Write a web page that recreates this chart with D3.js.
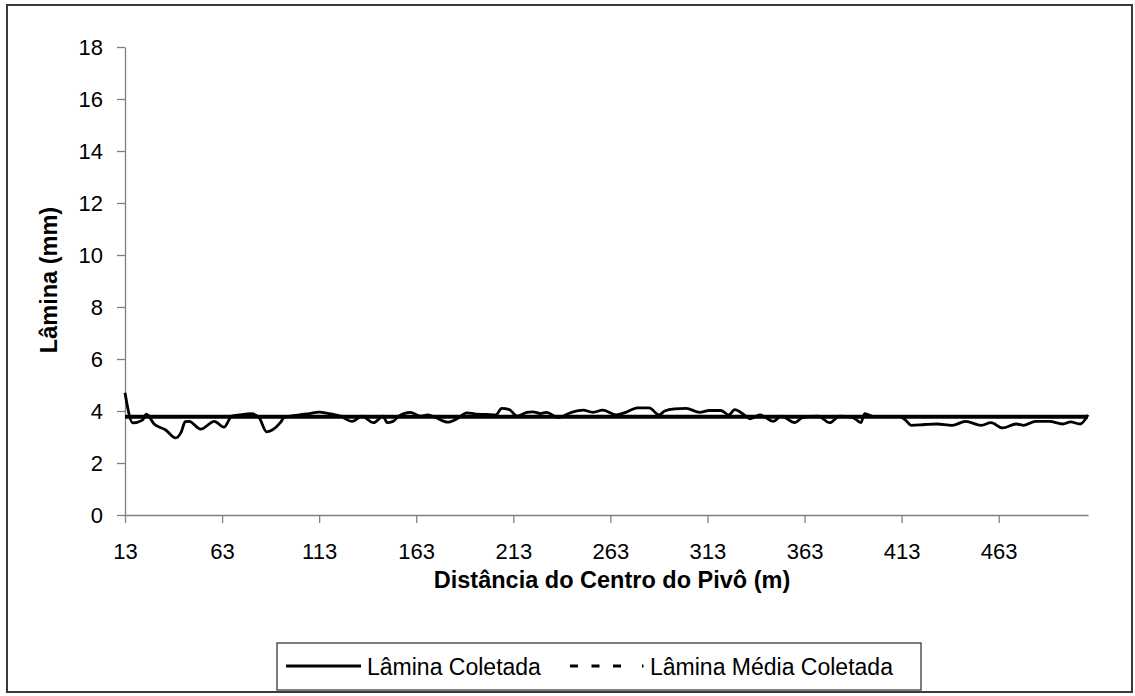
<!DOCTYPE html>
<html>
<head>
<meta charset="utf-8">
<script src="https://cdn.jsdelivr.net/npm/d3@7"></script>
<style>
  body { margin: 0; background: #fff; }
  svg text { font-family: "Liberation Sans", Arial, sans-serif; fill: #000; }
</style>
</head>
<body>
<svg id="chart" width="1135" height="696"></svg>
<script>
// dados
let distancia = [13, 17, 22, 24, 28, 34, 39, 42, 44, 46, 52, 59, 64, 68, 72, 78, 82, 86, 93, 95,
	103, 108, 113, 118, 124, 130, 135, 141, 146, 148, 151, 154, 160, 165, 169, 173, 179, 184, 189, 194,
	199, 204, 207, 211, 215, 220, 223, 227, 230, 236, 243, 249, 254, 259, 266, 271, 277, 283, 288, 291,
	296, 302, 309, 314, 320, 324, 327, 332, 335, 340, 347, 351, 358, 362, 370, 376, 381, 388, 392, 394,
	399, 405, 412, 415, 418, 425, 431, 439, 446, 454, 459, 465, 472, 476, 482, 489, 496, 500, 505, 509]
let laminaColetada = [4.70, 3.54, 3.65, 3.88, 3.5, 3.27, 2.97, 3.2, 3.59, 3.6, 3.3, 3.6, 3.38, 3.8, 3.85, 3.9, 3.75, 3.2, 3.55, 3.75,
	3.85, 3.9, 3.96, 3.9, 3.8, 3.6, 3.8, 3.55, 3.8, 3.55, 3.6, 3.8, 3.95, 3.8, 3.85, 3.75, 3.57, 3.7, 3.93, 3.88,
	3.87, 3.85, 4.1, 4.05, 3.8, 3.95, 3.97, 3.9, 3.95, 3.75, 3.95, 4.03, 3.95, 4.03, 3.85, 3.95, 4.12, 4.12, 3.85, 4.0,
	4.08, 4.1, 3.95, 4.02, 4.02, 3.85, 4.05, 3.85, 3.7, 3.85, 3.6, 3.8, 3.55, 3.75, 3.8, 3.55, 3.8, 3.75, 3.55, 3.9,
	3.78, 3.78, 3.78, 3.65, 3.45, 3.48, 3.5, 3.45, 3.6, 3.45, 3.55, 3.35, 3.5, 3.45, 3.6, 3.6, 3.5, 3.58, 3.5, 3.85]
let laminaMedia = 3.78
let xTicks = [13, 63, 113, 163, 213, 263, 313, 363, 413, 463]
let yTicks = [0, 2, 4, 6, 8, 10, 12, 14, 16, 18]
let nomes = ['Lâmina Coletada', 'Lâmina Média Coletada']

let svg = d3.select('#chart')

// borda externa
svg.append('rect')
	.attr('x', 7).attr('y', 5)
	.attr('width', 1125).attr('height', 687)
	.attr('fill', 'none')
	.attr('stroke', '#3a3a3a')
	.attr('stroke-width', 2)

let x = d3.scaleLinear().domain([13, 509]).range([125, 1088])
let y = d3.scaleLinear().domain([0, 18]).range([515, 47])

let gy = svg.append('g')
	.attr('transform', 'translate(125,0)')
	.call(d3.axisLeft(y).tickValues(yTicks).tickSize(8).tickSizeOuter(0).tickPadding(14))
gy.select('.domain').attr('stroke', '#808080').attr('stroke-width', 1.3)
gy.selectAll('.tick line').attr('stroke', '#808080').attr('stroke-width', 1.3)
gy.selectAll('text').attr('font-size', '22px').attr('font-family', '"Liberation Sans", Arial, sans-serif')

let gx = svg.append('g')
	.attr('transform', 'translate(0,515)')
	.call(d3.axisBottom(x).tickValues(xTicks).tickSize(8).tickSizeOuter(0).tickPadding(20))
gx.select('.domain').attr('stroke', '#808080').attr('stroke-width', 1.3)
gx.selectAll('.tick line').attr('stroke', '#808080').attr('stroke-width', 1.3)
gx.selectAll('text').attr('font-size', '22px').attr('font-family', '"Liberation Sans", Arial, sans-serif')

// títulos dos eixos
svg.append('text')
	.attr('x', 612).attr('y', 588)
	.attr('text-anchor', 'middle')
	.attr('font-size', '23.5px').attr('font-weight', 'bold')
	.text('Distância do Centro do Pivô (m)')

svg.append('text')
	.attr('transform', 'translate(57,280) rotate(-90)')
	.attr('text-anchor', 'middle')
	.attr('font-size', '23.5px').attr('font-weight', 'bold')
	.text('Lâmina (mm)')

// séries
let pontos = distancia.map((d, i) => [d, laminaColetada[i]])

let linha = d3.line()
	.x(d => x(d[0]))
	.y(d => y(d[1]))
	.curve(d3.curveMonotoneX)

svg.append('path')
	.datum(pontos)
	.attr('d', linha)
	.attr('fill', 'none')
	.attr('stroke', '#000')
	.attr('stroke-width', 2.8)
	.attr('stroke-linejoin', 'round')

svg.append('line')
	.attr('x1', x(13)).attr('x2', x(509))
	.attr('y1', y(laminaMedia)).attr('y2', y(laminaMedia))
	.attr('stroke', '#000')
	.attr('stroke-width', 4)

// legenda
let leg = svg.append('g')
leg.append('rect')
	.attr('x', 277).attr('y', 643)
	.attr('width', 644).attr('height', 47)
	.attr('fill', '#fff')
	.attr('stroke', '#3a3a3a')
	.attr('stroke-width', 1.3)

leg.append('line')
	.attr('x1', 286).attr('x2', 361).attr('y1', 666).attr('y2', 666)
	.attr('stroke', '#000').attr('stroke-width', 3)
leg.append('text')
	.attr('x', 367).attr('y', 675)
	.attr('font-size', '23px')
	.text(nomes[0])

leg.append('line')
	.attr('x1', 570).attr('x2', 644).attr('y1', 666).attr('y2', 666)
	.attr('stroke', '#000').attr('stroke-width', 3)
	.attr('stroke-dasharray', '8,13.5,8,13.5,8,21,1.5')
leg.append('text')
	.attr('x', 650).attr('y', 675)
	.attr('font-size', '23px')
	.text(nomes[1])
</script>
</body>
</html>
